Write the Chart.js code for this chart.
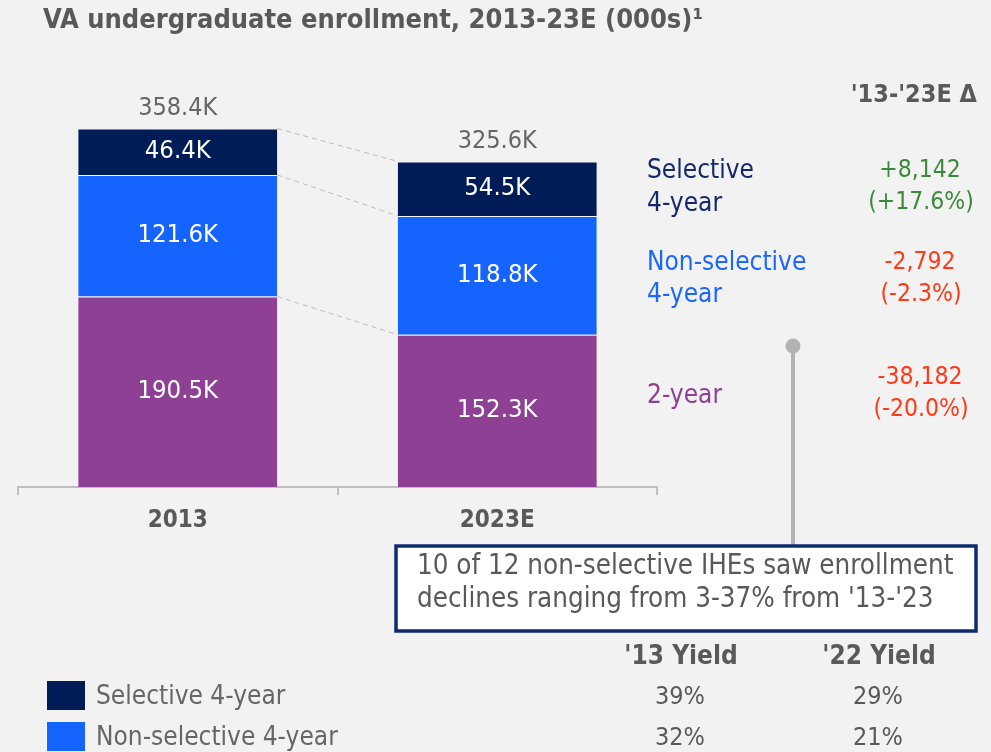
<!DOCTYPE html>
<html>
<head>
<meta charset="utf-8">
<style>
  html, body { margin: 0; padding: 0; background: #f2f2f2; }
  #wrap { width: 991px; height: 752px; }
</style>
<script src="https://cdn.jsdelivr.net/npm/chart.js@4.4.1/dist/chart.umd.min.js"></script>
</head>
<body>
<div id="wrap"><canvas id="c" width="991" height="752"></canvas></div>
<script>
// Enrollment by institution type, thousands of students
const categories = ['2013', '2023E'];
const seriesNames = ['2-year', 'Non-selective 4-year', 'Selective 4-year'];
const twoYear = [190.5, 152.3];
const nonSelective = [121.6, 118.8];
const selective = [46.4, 54.5];
const totals = [358.4, 325.6];

// Change 2013 -> 2023E, listed in the same order as the series
const deltaAbs = ['-38,182', '-2,792', '+8,142'];
const deltaPct = ['(-20.0%)', '(-2.3%)', '(+17.6%)'];
const sideLabels = [['2-year'], ['Non-selective', '4-year'], ['Selective', '4-year']];

// Yield table under the chart
const yieldHeaders = ["'13 Yield", "'22 Yield"];
const yieldSeries = ['Selective 4-year', 'Non-selective 4-year'];
const yield13 = ['39%', '32%'];
const yield22 = ['29%', '21%'];

const titleText = 'VA undergraduate enrollment, 2013-23E (000s)\u00B9';
const deltaHeader = "'13-'23E \u0394";
const noteLines = ['10 of 12 non-selective IHEs saw enrollment', "declines ranging from 3-37% from '13-'23"];

const FONT = '"DejaVu Sans Condensed", "DejaVu Sans", sans-serif';
const COLORS = { twoYear: '#8e4094', nonSelective: '#1664ff', selective: '#001c57' };
const TEXT_COLORS = ['#8e4094', '#1a66ff', '#14296b'];
const GREEN = '#3b8a3b', RED = '#ff3a17', GREY = '#595959';

function txt(ctx, s, x, y, size, color, align, bold) {
  ctx.font = (bold ? 'bold ' : '') + size + 'px ' + FONT;
  ctx.fillStyle = color;
  ctx.textAlign = align || 'left';
  ctx.textBaseline = 'middle';
  ctx.fillText(s, x, y);
}

const annotations = {
  id: 'annotations',
  afterDraw(chart) {
    const ctx = chart.ctx;
    const metas = chart.data.datasets.map((d, i) => chart.getDatasetMeta(i));
    ctx.save();

    // title
    txt(ctx, titleText, 43, 21, 27, GREY, 'left', true);

    // dashed connectors between segment tops of the two bars
    ctx.strokeStyle = '#bababa';
    ctx.lineWidth = 1;
    ctx.setLineDash([5, 4]);
    metas.forEach(m => {
      const a = m.data[0], b = m.data[1];
      ctx.beginPath();
      ctx.moveTo(a.x + a.width / 2, a.y);
      ctx.lineTo(b.x - b.width / 2, b.y);
      ctx.stroke();
    });
    ctx.setLineDash([]);

    // segment value labels
    metas.forEach((m, di) => {
      const vals = chart.data.datasets[di].data;
      m.data.forEach((el, i) => {
        txt(ctx, vals[i].toFixed(1) + 'K', el.x, (el.y + el.base) / 2, 25.5, '#ffffff', 'center');
      });
    });

    // totals above the bars
    const top = metas[metas.length - 1];
    top.data.forEach((el, i) => {
      txt(ctx, totals[i].toFixed(1) + 'K', el.x, el.y - 20, 25, '#666666', 'center');
    });

    // change column
    txt(ctx, deltaHeader, 977, 95, 25, GREY, 'right', true);
    const labelYs = [[396], [263, 295], [171, 204]];
    const deltaYs = [[378, 410], [263, 295], [171, 203]];
    sideLabels.forEach((lines, i) => {
      lines.forEach((line, j) => txt(ctx, line, 647, labelYs[i][j], 26, TEXT_COLORS[i], 'left'));
      const c = deltaAbs[i].charAt(0) === '+' ? GREEN : RED;
      txt(ctx, deltaAbs[i], 920, deltaYs[i][0], 24.5, c, 'center');
      txt(ctx, deltaPct[i], 921, deltaYs[i][1], 24.5, c, 'center');
    });

    // callout pointer
    ctx.strokeStyle = '#b3b3b3';
    ctx.fillStyle = '#b3b3b3';
    ctx.lineWidth = 4;
    ctx.beginPath();
    ctx.moveTo(793, 346);
    ctx.lineTo(793, 547);
    ctx.stroke();
    ctx.beginPath();
    ctx.arc(793, 346, 7.5, 0, Math.PI * 2);
    ctx.fill();

    // callout box
    ctx.fillStyle = '#ffffff';
    ctx.fillRect(396, 546, 580, 85);
    ctx.strokeStyle = '#0d2b6e';
    ctx.lineWidth = 3.5;
    ctx.strokeRect(396, 546, 580, 85);
    txt(ctx, noteLines[0], 417, 567, 27.5, GREY, 'left');
    txt(ctx, noteLines[1], 417, 600, 27.5, GREY, 'left');

    // legend and yield table
    const legendColors = [COLORS.selective, COLORS.nonSelective];
    const rowYs = [697, 738];
    txt(ctx, yieldHeaders[0], 681, 657, 26, GREY, 'center', true);
    txt(ctx, yieldHeaders[1], 879, 657, 26, GREY, 'center', true);
    yieldSeries.forEach((name, i) => {
      ctx.fillStyle = legendColors[i];
      ctx.fillRect(47, rowYs[i] - 16, 38, 29);
      txt(ctx, name, 96, rowYs[i], 26, '#666666', 'left');
      txt(ctx, yield13[i], 680, rowYs[i], 25, GREY, 'center');
      txt(ctx, yield22[i], 878, rowYs[i], 25, GREY, 'center');
    });

    ctx.restore();
  }
};

new Chart(document.getElementById('c'), {
  type: 'bar',
  data: {
    labels: categories,
    datasets: [
      { label: seriesNames[0], data: twoYear, backgroundColor: COLORS.twoYear },
      { label: seriesNames[1], data: nonSelective, backgroundColor: COLORS.nonSelective },
      { label: seriesNames[2], data: selective, backgroundColor: COLORS.selective }
    ].map(d => Object.assign(d, {
      borderWidth: { top: 1 },
      borderColor: 'rgba(255,255,255,0.3)',
      borderSkipped: false,
      barPercentage: 0.623,
      categoryPercentage: 1
    }))
  },
  options: {
    responsive: false,
    animation: false,
    layout: { padding: { left: 18, right: 334, top: 87, bottom: 215 } },
    plugins: { legend: { display: false }, tooltip: { enabled: false } },
    scales: {
      x: {
        stacked: true,
        afterFit(scale) { scale.height = 50; },
        grid: { offset: true, drawOnChartArea: false, drawTicks: true, tickLength: 8, color: '#bfbfbf', lineWidth: 2 },
        border: { display: true, color: '#bfbfbf', width: 2 },
        ticks: { color: GREY, padding: 11, font: { family: FONT, size: 24, weight: 'bold' } }
      },
      y: { stacked: true, display: false, min: 0, max: 400 }
    }
  },
  plugins: [annotations]
});
</script>
</body>
</html>
